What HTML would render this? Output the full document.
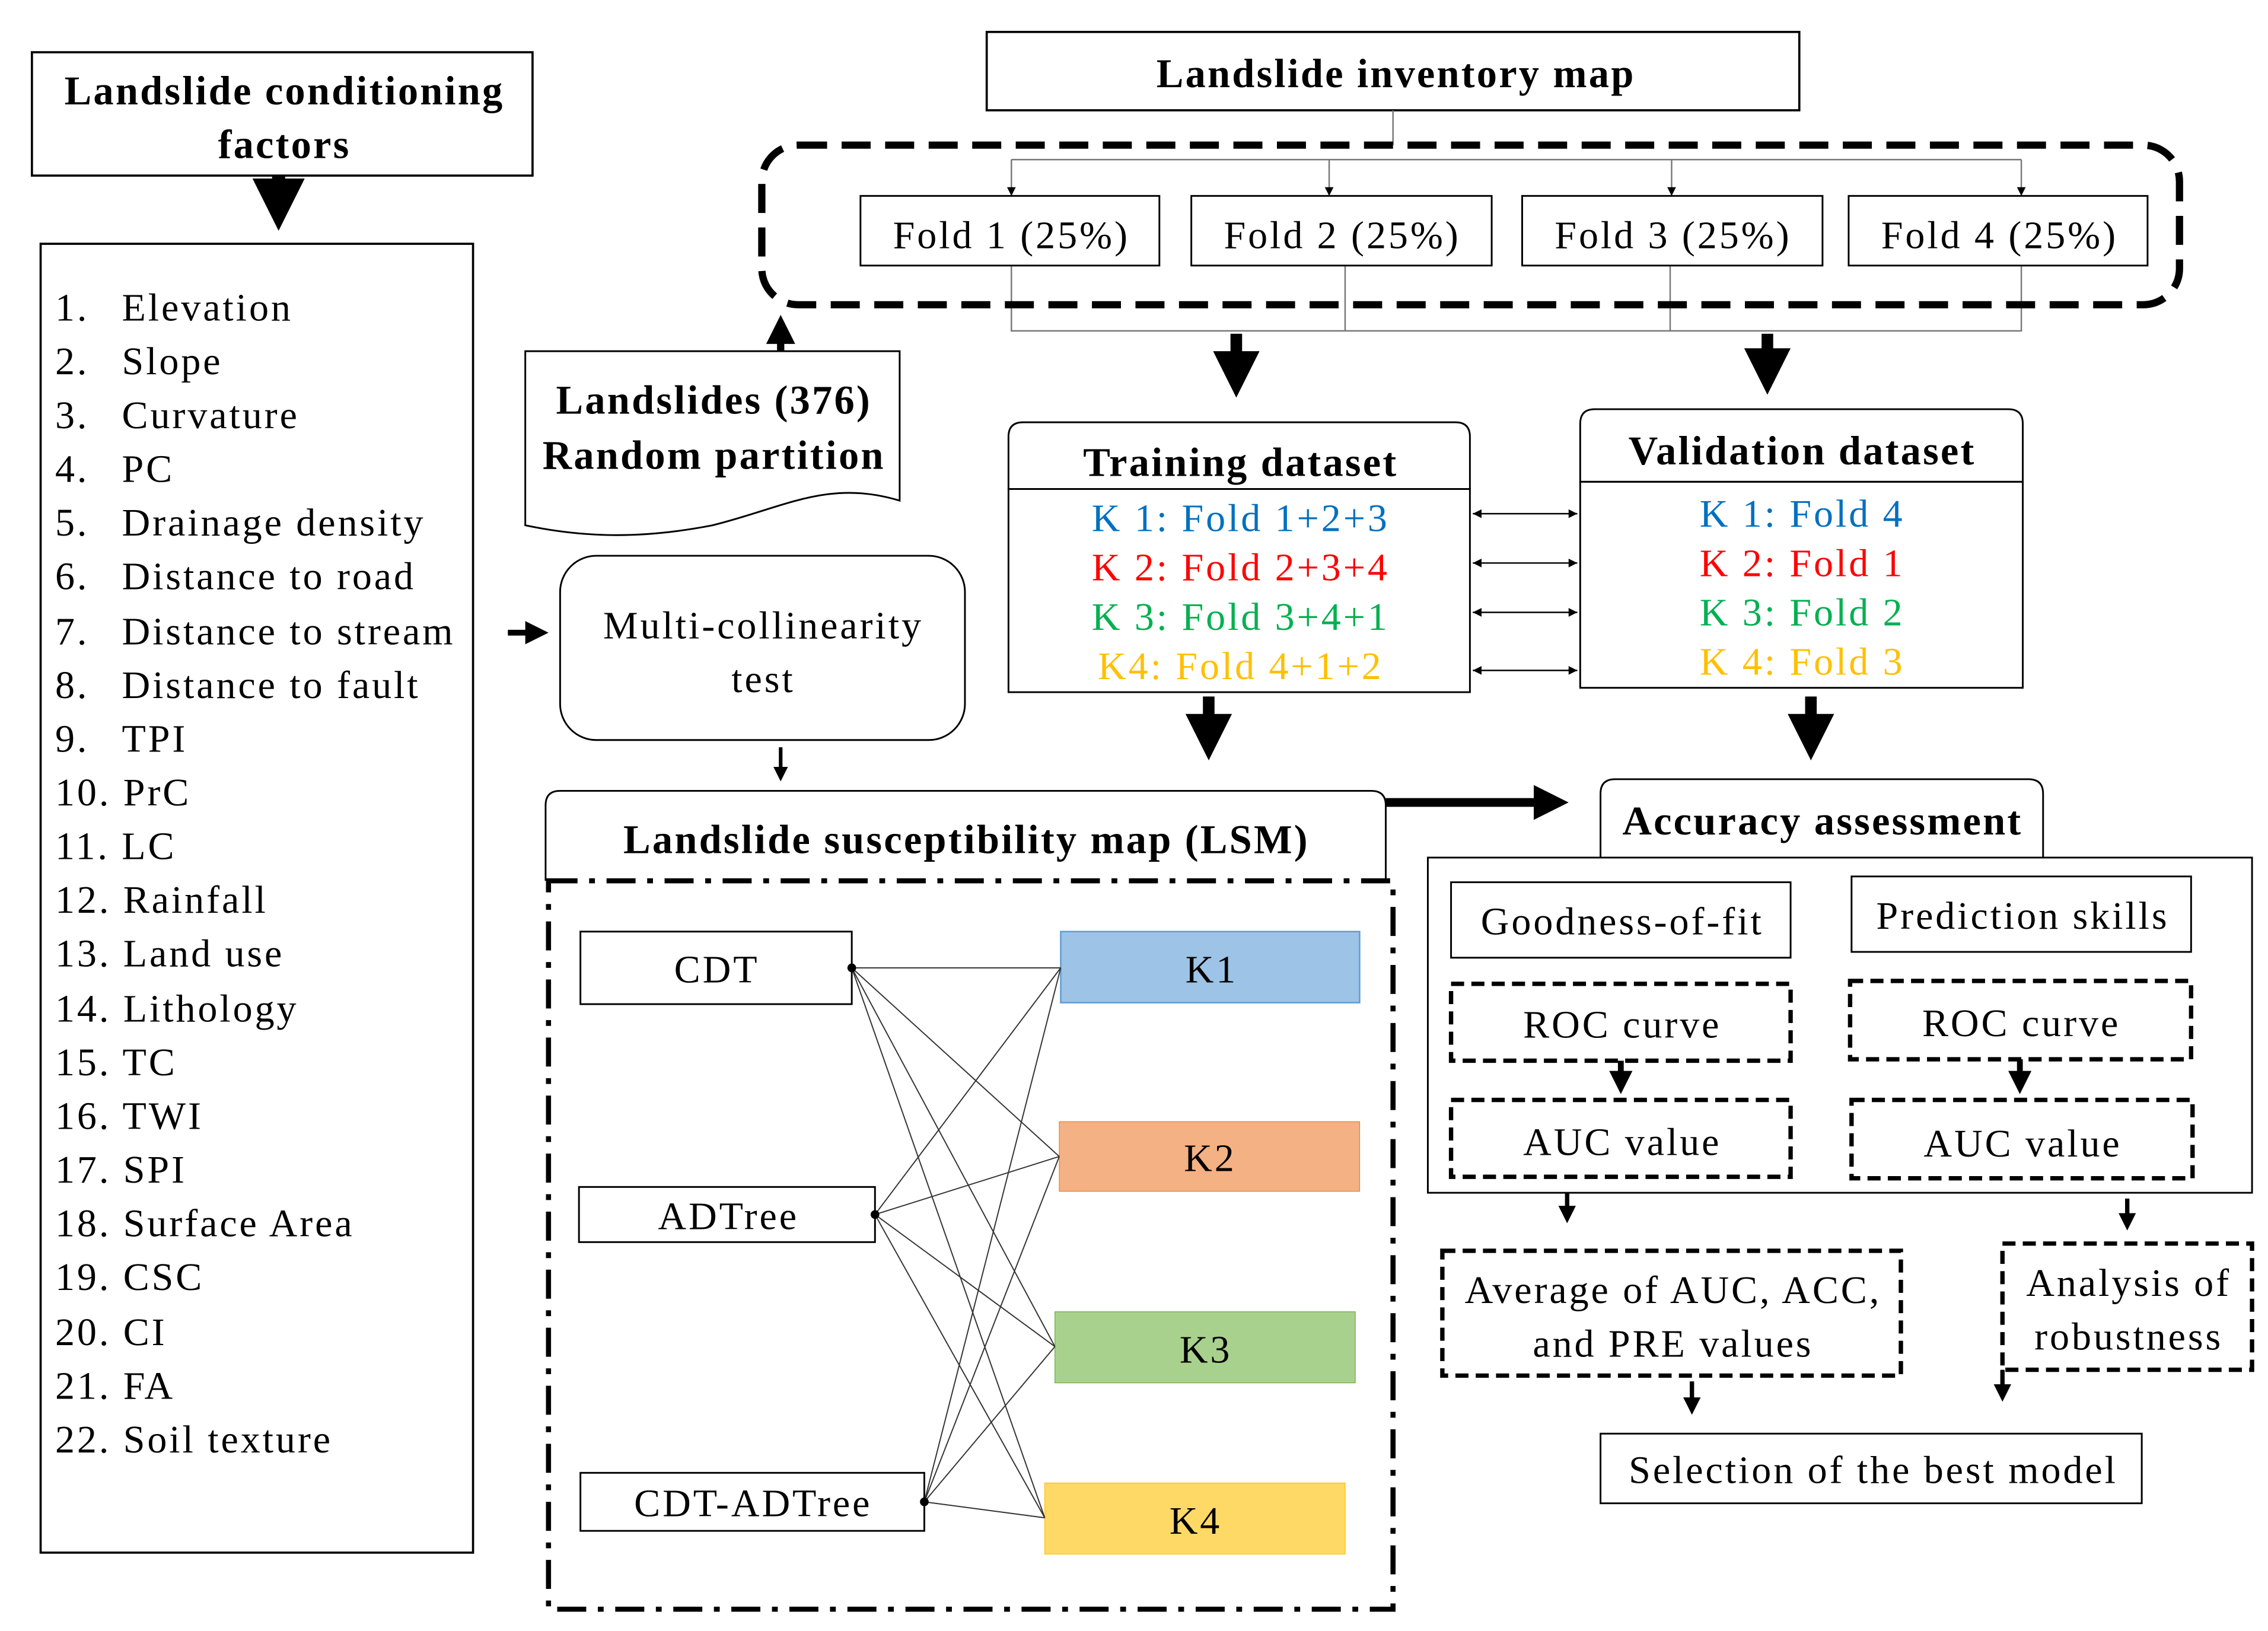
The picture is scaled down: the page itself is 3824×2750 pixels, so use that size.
<!DOCTYPE html>
<html><head><meta charset="utf-8"><style>html,body{margin:0;padding:0;background:#fff}svg{display:block}</style></head>
<body>
<svg width="3824" height="2750" viewBox="0 0 1563 1124" xmlns="http://www.w3.org/2000/svg" font-family="'Liberation Serif',serif">
<defs>
<marker id="as" markerWidth="6" markerHeight="6" refX="6" refY="3" orient="auto-start-reverse" markerUnits="userSpaceOnUse"><path d="M0,0 L6,3 L0,6 z" fill="#000"/></marker>
<marker id="ab" markerWidth="4" markerHeight="4" refX="3" refY="2" orient="auto" markerUnits="strokeWidth"><path d="M0,0 L4,2 L0,4 z" fill="#000"/></marker>
</defs>
<g fill="none" stroke="#000">
<rect x="22" y="36" width="345" height="85" stroke-width="1.5"/>
<line x1="192" y1="121" x2="192" y2="150" stroke-width="9" marker-end="url(#ab)"/>
<rect x="28" y="168" width="298" height="902" stroke-width="1.5"/>
<rect x="680" y="22" width="560" height="54" stroke-width="1.5"/>
<path d="M960,76 V100 M697,110 H1393" stroke-width="1" stroke="#777"/>
<g stroke="#777" stroke-width="1">
<line x1="697" y1="110" x2="697" y2="135" marker-end="url(#as)"/>
<line x1="916" y1="110" x2="916" y2="135" marker-end="url(#as)"/>
<line x1="1152" y1="110" x2="1152" y2="135" marker-end="url(#as)"/>
<line x1="1393" y1="110" x2="1393" y2="135" marker-end="url(#as)"/>
<path d="M697,183 V228 H1393 V183 M927,183 V228 M1151,183 V228"/>
</g>
<rect x="525" y="100" width="977" height="110" rx="25" stroke-width="5" stroke-dasharray="20,10"/>
<rect x="593" y="135" width="206" height="48" stroke-width="1.2"/>
<rect x="821" y="135" width="207" height="48" stroke-width="1.2"/>
<rect x="1049" y="135" width="207" height="48" stroke-width="1.2"/>
<rect x="1274" y="135" width="206" height="48" stroke-width="1.2"/>
<line x1="852" y1="230" x2="852" y2="266" stroke-width="8" marker-end="url(#ab)"/>
<line x1="1218" y1="230" x2="1218" y2="264" stroke-width="8" marker-end="url(#ab)"/>
<path d="M362,242 H620 V345 C570,330 540,350 491,362 C440,372 400,370 362,362 Z" stroke-width="1.2"/>
<line x1="538" y1="242" x2="538" y2="222" stroke-width="5" marker-end="url(#ab)"/>
<rect x="386" y="383" width="279" height="127" rx="25" stroke-width="1.2"/>
<line x1="350" y1="436" x2="374" y2="436" stroke-width="4" marker-end="url(#ab)"/>
<line x1="538" y1="515" x2="538" y2="536" stroke-width="2.5" marker-end="url(#ab)"/>
<path d="M695,337 V301 Q695,291 705,291 H1003 Q1013,291 1013,301 V337 Z" stroke-width="1.2"/>
<rect x="695" y="337" width="318" height="140" stroke-width="1.2"/>
<path d="M1089,332 V292 Q1089,282 1099,282 H1384 Q1394,282 1394,292 V332 Z" stroke-width="1.2"/>
<rect x="1089" y="332" width="305" height="142" stroke-width="1.2"/>
<g stroke-width="1">
<line x1="1015" y1="354" x2="1087" y2="354" marker-start="url(#as)" marker-end="url(#as)"/>
<line x1="1015" y1="388" x2="1087" y2="388" marker-start="url(#as)" marker-end="url(#as)"/>
<line x1="1015" y1="422" x2="1087" y2="422" marker-start="url(#as)" marker-end="url(#as)"/>
<line x1="1015" y1="462" x2="1087" y2="462" marker-start="url(#as)" marker-end="url(#as)"/>
</g>
<line x1="833" y1="480" x2="833" y2="516" stroke-width="8" marker-end="url(#ab)"/>
<line x1="1248" y1="480" x2="1248" y2="516" stroke-width="8" marker-end="url(#ab)"/>
<path d="M376,607 V555 Q376,545 386,545 H945 Q955,545 955,555 V607" stroke-width="1.2"/>
<line x1="955" y1="553" x2="1075" y2="553" stroke-width="6" marker-end="url(#ab)"/>
<rect x="378" y="607" width="582" height="502" stroke-width="3.5" stroke-dasharray="20,8,4,8"/>
<rect x="400" y="642" width="187" height="50" stroke-width="1.2"/>
<rect x="399" y="818" width="204" height="38" stroke-width="1.2"/>
<rect x="400" y="1015" width="237" height="40" stroke-width="1.2"/>
</g>
<rect x="731" y="642" width="206" height="49" fill="#9DC3E6" stroke="#5B9BD5"/>
<rect x="730" y="773" width="207" height="48" fill="#F4B183" stroke="#ED7D31" stroke-width="0.5"/>
<rect x="727" y="904" width="207" height="49" fill="#A9D18E" stroke="#70AD47" stroke-width="0.5"/>
<rect x="720" y="1022" width="207" height="49" fill="#FFD966" stroke="#FFC000" stroke-width="0.5"/>
<g stroke="#333" stroke-width="0.8" fill="none">
<path d="M587,667 L731,667 M587,667 L730,797 M587,667 L727,928 M587,667 L720,1046"/>
<path d="M603,837 L731,667 M603,837 L730,797 M603,837 L727,928 M603,837 L720,1046"/>
<path d="M637,1035 L731,667 M637,1035 L730,797 M637,1035 L727,928 M637,1035 L720,1046"/>
</g>
<circle cx="587" cy="667" r="3"/><circle cx="603" cy="837" r="3"/><circle cx="637" cy="1035" r="3"/>
<g fill="none" stroke="#000">
<path d="M1103,591 V547 Q1103,537 1113,537 H1398 Q1408,537 1408,547 V591" stroke-width="1.2"/>
<rect x="984" y="591" width="568" height="231" stroke-width="1.2"/>
<rect x="1000" y="608" width="234" height="52" stroke-width="1.2"/>
<rect x="1276" y="604" width="234" height="52" stroke-width="1.2"/>
<g stroke-width="3" stroke-dasharray="9,5">
<rect x="1000" y="678" width="234" height="53"/>
<rect x="1275" y="676" width="235" height="54"/>
<rect x="1000" y="758" width="234" height="53"/>
<rect x="1276" y="758" width="235" height="54"/>
<rect x="994" y="862" width="316" height="86"/>
<rect x="1380" y="857" width="172" height="87"/>
</g>
<line x1="1117" y1="731" x2="1117" y2="750" stroke-width="4" marker-end="url(#ab)"/>
<line x1="1392" y1="730" x2="1392" y2="750" stroke-width="4" marker-end="url(#ab)"/>
<line x1="1080" y1="822" x2="1080" y2="840" stroke-width="3" marker-end="url(#ab)"/>
<line x1="1466" y1="826" x2="1466" y2="845" stroke-width="3" marker-end="url(#ab)"/>
<line x1="1166" y1="952" x2="1166" y2="972" stroke-width="3" marker-end="url(#ab)"/>
<line x1="1380" y1="944" x2="1380" y2="963" stroke-width="3" marker-end="url(#ab)"/>
<rect x="1103" y="988" width="373" height="48" stroke-width="1.2"/>
</g>
<g font-size="27" text-anchor="middle" letter-spacing="1.6">
<g font-weight="bold" font-size="28" letter-spacing="1.3">
<text x="196" y="72">Landslide conditioning</text><text x="196" y="109">factors</text>
<text x="962" y="60">Landslide inventory map</text>
<text x="492" y="285">Landslides (376)</text><text x="492" y="323">Random partition</text>
<text x="855" y="328">Training dataset</text>
<text x="1242" y="320">Validation dataset</text>
<text x="666" y="588">Landslide susceptibility map (LSM)</text>
<text x="1256" y="575">Accuracy assessment</text>
</g>
<text x="697" y="171">Fold 1 (25%)</text><text x="925" y="171">Fold 2 (25%)</text>
<text x="1153" y="171">Fold 3 (25%)</text><text x="1378" y="171">Fold 4 (25%)</text>
<text x="526" y="440">Multi-collinearity</text><text x="526" y="477">test</text>
<text x="855" y="366" fill="#0070C0">K 1: Fold 1+2+3</text>
<text x="855" y="400" fill="#FF0000">K 2: Fold 2+3+4</text>
<text x="855" y="434" fill="#00B050">K 3: Fold 3+4+1</text>
<text x="855" y="468" fill="#FFC000">K4: Fold 4+1+2</text>
<text x="1242" y="363" fill="#0070C0">K 1: Fold 4</text>
<text x="1242" y="397" fill="#FF0000">K 2: Fold 1</text>
<text x="1242" y="431" fill="#00B050">K 3: Fold 2</text>
<text x="1242" y="465" fill="#FFC000">K 4: Fold 3</text>
<text x="494" y="677">CDT</text><text x="502" y="847">ADTree</text><text x="519" y="1045">CDT-ADTree</text>
<text x="835" y="677">K1</text><text x="834" y="807">K2</text><text x="831" y="939">K3</text><text x="824" y="1057">K4</text>
<text x="1118" y="644">Goodness-of-fit</text><text x="1394" y="640">Prediction skills</text>
<text x="1118" y="715">ROC curve</text><text x="1393" y="714">ROC curve</text>
<text x="1118" y="796">AUC value</text><text x="1394" y="797">AUC value</text>
<text x="1153" y="898">Average of AUC, ACC,</text><text x="1153" y="935">and PRE values</text>
<text x="1467" y="893">Analysis of</text><text x="1467" y="930">robustness</text>
<text x="1291" y="1022">Selection of the best model</text>
</g>
<g font-size="27" letter-spacing="1.6">
<text x="38" y="221">1.</text><text x="84" y="221">Elevation</text>
<text x="38" y="258">2.</text><text x="84" y="258">Slope</text>
<text x="38" y="295">3.</text><text x="84" y="295">Curvature</text>
<text x="38" y="332">4.</text><text x="84" y="332">PC</text>
<text x="38" y="369">5.</text><text x="84" y="369">Drainage density</text>
<text x="38" y="406">6.</text><text x="84" y="406">Distance to road</text>
<text x="38" y="444">7.</text><text x="84" y="444">Distance to stream</text>
<text x="38" y="481">8.</text><text x="84" y="481">Distance to fault</text>
<text x="38" y="518">9.</text><text x="84" y="518">TPI</text>
<text x="38" y="555">10. PrC</text>
<text x="38" y="592">11. LC</text>
<text x="38" y="629">12. Rainfall</text>
<text x="38" y="666">13. Land use</text>
<text x="38" y="704">14. Lithology</text>
<text x="38" y="741">15. TC</text>
<text x="38" y="778">16. TWI</text>
<text x="38" y="815">17. SPI</text>
<text x="38" y="852">18. Surface Area</text>
<text x="38" y="889">19. CSC</text>
<text x="38" y="927">20. CI</text>
<text x="38" y="964">21. FA</text>
<text x="38" y="1001">22. Soil texture</text>
</g>
</svg>
</body></html>
